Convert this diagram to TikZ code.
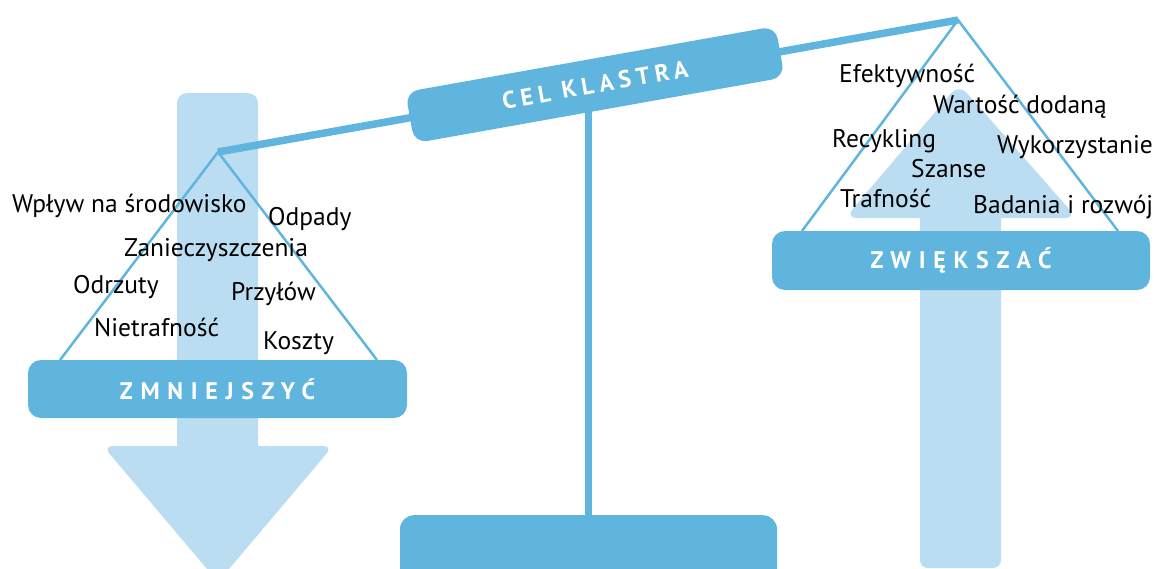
\documentclass[tikz,border=0pt]{standalone}
\usepackage{fontspec}
\setmainfont{PT Sans}
\definecolor{dblue}{HTML}{5FB5DE}
\definecolor{lblue}{HTML}{BBDDF2}
\begin{document}
\begin{tikzpicture}[x=1pt,y=-1pt,
  boxlabel/.style={fill=dblue, rounded corners=13pt, inner sep=0pt, text=white,
    font=\fontsize{24}{28}\selectfont\bfseries\addfontfeature{LetterSpace=32}},
  tightlabel/.style={boxlabel, font=\fontsize{24}{28}\selectfont\bfseries\addfontfeature{LetterSpace=22}},
  word/.style={font=\fontsize{25.5}{28}\selectfont, text=black, inner sep=0pt, anchor=base west},
  tri/.style={draw=dblue, line width=2.5pt},
  beam/.style={draw=dblue, line width=7.5pt},
  bigarrow/.style={fill=lblue}
]
\useasboundingbox (0,0) rectangle (1154,568);
% light arrows
\fill[bigarrow, rounded corners=10pt] (177,93) rectangle (258,460);
\fill[bigarrow, rounded corners=10pt] (103,446) -- (333,446) -- (218,582) -- cycle;
\fill[bigarrow, rounded corners=8pt] (920,200) rectangle (1001,568);
\fill[bigarrow, rounded corners=12pt] (845,218) -- (959,84) -- (1077,218) -- cycle;
% anchors
\coordinate (apexL) at (218,152);
\coordinate (apexR) at (958,20);
\coordinate (triLl) at (60,360);
\coordinate (triLr) at (377,360);
\coordinate (triRl) at (802,231);
\coordinate (triRr) at (1118,231);
% beam and triangles
\draw[beam] (apexL) -- (apexR);
\draw[tri] (triLl) -- (apexL) -- (triLr);
\draw[tri] (triRl) -- (apexR) -- (triRr);
% boxes
\node[boxlabel, minimum width=379pt, minimum height=58pt] (zm) at (217.5,389) {ZMNIEJSZYĆ};
\node[boxlabel, minimum width=378pt, minimum height=59pt] (zw) at (961,260.5) {ZWIĘKSZAĆ};
\node[tightlabel, rotate=10.1, minimum width=376pt, minimum height=52pt] (cel) at (595,84.7) {CEL KLASTRA};
\node[fill=dblue, rounded corners=14pt, minimum width=377pt, minimum height=70pt, anchor=north, inner sep=0pt] (base) at (588.5,515) {};
\draw[draw=dblue, line width=7pt] (base.north) -- (base.north |- cel.south);
% words left
\node[word] (w1) at (12,212) {Wpływ na środowisko};
\node[word] (w2) at (268,225) {Odpady};
\node[word] (w3) at (124,256) {Zanieczyszczenia};
\node[word] (w4) at (73,293) {Odrzuty};
\node[word] (w5) at (231,300) {Przyłów};
\node[word] (w6) at (94,336) {Nietrafność};
\node[word] (w7) at (263,349) {Koszty};
% words right
\node[word] (r1) at (839,82) {Efektywność};
\node[word] (r2) at (933,113) {Wartość dodaną};
\node[word] (r3) at (832,147) {Recykling};
\node[word] (r4) at (997,153) {Wykorzystanie};
\node[word] (r5) at (911,177) {Szanse};
\node[word] (r6) at (840,207) {Trafność};
\node[word] (r7) at (973,213) {Badania i rozwój};
\end{tikzpicture}
\end{document}
